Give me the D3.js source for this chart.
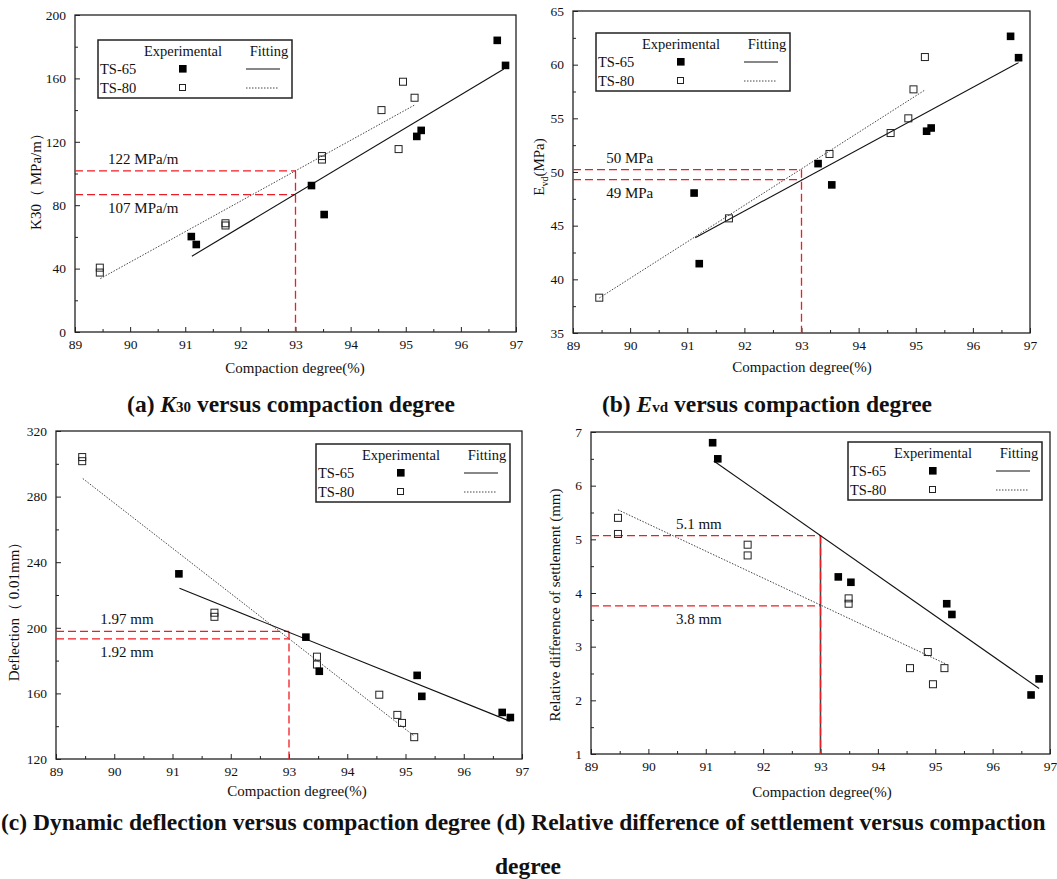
<!doctype html>
<html>
<head>
<meta charset="utf-8">
<script src="https://d3js.org/d3.v7.min.js"></script>
<style>
  body { margin: 0; background: #fff; }
  text { font-family: "Liberation Serif", "Times New Roman", serif; fill: #111; }
</style>
</head>
<body>
<svg width="1057" height="879" id="fig"></svg>
<script>
// ---- data ----
var xTicks = [89, 90, 91, 92, 93, 94, 95, 96, 97];
var xRef = 93;

// (a) K30
var k30Ticks = [0, 40, 80, 120, 160, 200];
var k30Ts65 = [[96.66, 184.0], [96.81, 168.2], [95.28, 127.2], [95.20, 123.4], [93.29, 92.4], [93.52, 74.1], [91.11, 60.2], [91.20, 55.2]];
var k30Ts80 = [[89.45, 40.6], [89.45, 37.5], [91.73, 68.6], [91.73, 67.2], [93.48, 111.0], [93.48, 108.8], [94.56, 140.0], [94.87, 115.4], [94.95, 157.9], [95.16, 147.8]];
var k30Fit65 = [[91.12, 47.8], [96.78, 165.9]];
var k30Fit80 = [[89.46, 33.7], [95.16, 143.2]];
var k30Ref = [101.7, 86.7];
var k30RefText = ["122 MPa/m", "107 MPa/m"];

// (b) Evd
var evdTicks = [35, 40, 45, 50, 55, 60, 65];
var evdTs65 = [[96.66, 62.64], [96.80, 60.65], [95.27, 54.1], [95.19, 53.8], [93.29, 50.78], [93.53, 48.8], [91.12, 48.04], [91.21, 41.46]];
var evdTs80 = [[89.46, 38.29], [91.73, 45.68], [93.49, 51.68], [94.56, 53.63], [94.87, 55.0], [94.96, 57.7], [95.16, 60.71]];
var evdFit65 = [[91.14, 43.88], [96.80, 60.19]];
var evdFit80 = [[89.46, 38.26], [95.17, 57.67]];
var evdRef = [50.22, 49.29];
var evdRefText = ["50 MPa", "49 MPa"];

// (c) deflection
var deflTicks = [120, 160, 200, 240, 280, 320];
var deflTs65 = [[91.11, 232.9], [93.29, 194.3], [93.52, 173.5], [95.20, 171.0], [95.28, 158.2], [96.66, 148.4], [96.80, 145.3]];
var deflTs80 = [[89.45, 304.1], [89.45, 301.6], [91.72, 209.2], [91.72, 206.7], [93.48, 182.4], [93.48, 177.6], [94.55, 159.2], [94.86, 146.9], [94.94, 142.0], [95.15, 133.3]];
var deflFit65 = [[91.12, 224.1], [96.79, 143.1]];
var deflFit80 = [[89.46, 291.0], [95.14, 134.3]];
var deflRef = [197.8, 193.3];
var deflRefText = ["1.97 mm", "1.92 mm"];

// (d) relative difference of settlement
var setTicks = [1, 2, 3, 4, 5, 6, 7];
var setTs65 = [[91.12, 6.8], [91.21, 6.5], [93.31, 4.3], [93.53, 4.2], [95.20, 3.8], [95.29, 3.6], [96.67, 2.1], [96.81, 2.4]];
var setTs80 = [[89.47, 5.4], [89.47, 5.1], [91.73, 4.9], [91.73, 4.7], [93.49, 3.9], [93.49, 3.8], [94.56, 2.6], [94.87, 2.9], [94.96, 2.3], [95.16, 2.6]];
var setFit65 = [[91.14, 6.46], [96.81, 2.22]];
var setFit80 = [[89.47, 5.55], [95.18, 2.68]];
var setRef = [5.07, 3.76];
var setRefText = ["5.1 mm", "3.8 mm"];

var svg = d3.select("#fig");
svg.append("rect").attr("width", 1057).attr("height", 879).attr("fill", "#fff");

function mids(t) { return d3.pairs(t).map(function (p) { return (p[0] + p[1]) / 2; }); }

function panel(p) {
  var x = d3.scaleLinear().domain([89, 97]).range([p.left, p.right]);
  var y = d3.scaleLinear().domain([p.yTicks[0], p.yTicks[p.yTicks.length - 1]]).range([p.bottom, p.top]);
  var g = svg.append("g");

  // axes, ticks pointing inward
  var bx = g.append("g").attr("transform", "translate(0," + p.bottom + ")");
  bx.append("g").call(d3.axisBottom(x).tickValues(mids(xTicks)).tickSize(-3).tickFormat(""));
  bx.append("g").call(d3.axisBottom(x).tickValues(xTicks).tickSize(-5).tickPadding(7).tickFormat(d3.format("d")));
  var ly = g.append("g").attr("transform", "translate(" + p.left + ",0)");
  ly.append("g").call(d3.axisLeft(y).tickValues(mids(p.yTicks)).tickSize(-3).tickFormat(""));
  ly.append("g").call(d3.axisLeft(y).tickValues(p.yTicks).tickSize(-5).tickPadding(9).tickFormat(d3.format("d")));
  g.selectAll(".domain").remove();
  g.selectAll(".tick line").attr("stroke", "#222");
  g.selectAll(".tick text").style("font-size", "13.5px").style("font-family", "Liberation Serif").attr("fill", "#222");

  g.append("rect")
    .attr("x", p.left).attr("y", p.top)
    .attr("width", p.right - p.left).attr("height", p.bottom - p.top)
    .attr("fill", "none").attr("stroke", "#222").attr("stroke-width", 1.3);

  // red reference lines at 93 %
  if (p.darkRef) {
    g.append("line")
      .attr("x1", x(xRef)).attr("x2", x(xRef))
      .attr("y1", y(p.ref[0])).attr("y2", p.bottom)
      .attr("stroke", "#444").attr("stroke-width", 1.6);
  }
  p.ref.forEach(function (v) {
    g.append("line")
      .attr("x1", p.left).attr("x2", x(xRef))
      .attr("y1", y(v)).attr("y2", y(v))
      .attr("stroke", "#ee1c24").attr("stroke-width", 1.3).attr("stroke-dasharray", "8,4");
  });
  g.append("line")
    .attr("x1", x(xRef)).attr("x2", x(xRef))
    .attr("y1", y(p.ref[0])).attr("y2", p.bottom)
    .attr("stroke", "#ee1c24").attr("stroke-width", 1.3).attr("stroke-dasharray", "8,4");

  g.append("text").attr("x", x(p.refLabelX)).attr("y", y(p.ref[0]) - 7)
    .style("font-size", "15px").text(p.refText[0]);
  g.append("text").attr("x", x(p.refLabelX)).attr("y", y(p.ref[1]) + 18)
    .style("font-size", "15px").text(p.refText[1]);

  // fitted lines
  var line = d3.line().x(function (d) { return x(d[0]); }).y(function (d) { return y(d[1]); });
  g.append("path").datum(p.fit80).attr("d", line)
    .attr("fill", "none").attr("stroke", "#444").attr("stroke-width", 1).attr("stroke-dasharray", "1.5,1.5");
  g.append("path").datum(p.fit65).attr("d", line)
    .attr("fill", "none").attr("stroke", "#111").attr("stroke-width", 1.1);

  // points
  g.selectAll(".o").data(p.ts80).enter().append("rect")
    .attr("x", function (d) { return x(d[0]) - 3.5; })
    .attr("y", function (d) { return y(d[1]) - 3.5; })
    .attr("width", 7).attr("height", 7)
    .attr("fill", "none").attr("stroke", "#222").attr("stroke-width", 1);
  g.selectAll(".f").data(p.ts65).enter().append("rect")
    .attr("x", function (d) { return x(d[0]) - 3.8; })
    .attr("y", function (d) { return y(d[1]) - 3.8; })
    .attr("width", 7.6).attr("height", 7.6)
    .attr("fill", "#000");

  // legend
  var L = p.legend;
  var lg = g.append("g").attr("transform", "translate(" + L[0] + "," + L[1] + ")");
  lg.append("rect").attr("width", 194).attr("height", 58)
    .attr("fill", "#fff").attr("stroke", "#222").attr("stroke-width", 1.5);
  lg.append("text").attr("x", 85).attr("y", 16).attr("text-anchor", "middle").style("font-size", "14.5px").text("Experimental");
  lg.append("text").attr("x", 171).attr("y", 16).attr("text-anchor", "middle").style("font-size", "14.5px").text("Fitting");
  lg.append("text").attr("x", 2).attr("y", 34).style("font-size", "14.5px").text("TS-65");
  lg.append("text").attr("x", 2).attr("y", 53).style("font-size", "14.5px").text("TS-80");
  lg.append("rect").attr("x", 81).attr("y", 25).attr("width", 7.6).attr("height", 7.6).attr("fill", "#000");
  lg.append("rect").attr("x", 81.5).attr("y", 44.5).attr("width", 6).attr("height", 6)
    .attr("fill", "none").attr("stroke", "#222");
  lg.append("line").attr("x1", 148).attr("x2", 182).attr("y1", 29).attr("y2", 29).attr("stroke", "#111");
  lg.append("line").attr("x1", 148).attr("x2", 180).attr("y1", 48).attr("y2", 48)
    .attr("stroke", "#444").attr("stroke-dasharray", "1.5,1.5");

  // x title
  g.append("text").attr("x", p.xTitle[0]).attr("y", p.xTitle[1]).attr("text-anchor", "middle")
    .style("font-size", "15px").text("Compaction degree(%)");
  // y title
  var yt = g.append("text")
    .attr("transform", "translate(" + p.yTitle[0] + "," + p.yTitle[1] + ")rotate(-90)")
    .attr("text-anchor", "middle").style("font-size", "15px");
  p.yText(yt);
}

panel({
  left: 75, right: 516, top: 15, bottom: 332,
  yTicks: k30Ticks, ts65: k30Ts65, ts80: k30Ts80, fit65: k30Fit65, fit80: k30Fit80,
  ref: k30Ref, refText: k30RefText, refLabelX: 89.6,
  legend: [98, 40], xTitle: [295, 373], yTitle: [41, 178],
  yText: function (t) { t.text("K30（ MPa/m）"); }
});
panel({
  left: 573, right: 1030, top: 11, bottom: 333,
  yTicks: evdTicks, ts65: evdTs65, ts80: evdTs80, fit65: evdFit65, fit80: evdFit80,
  ref: evdRef, refText: evdRefText, refLabelX: 89.58,
  legend: [596, 33], xTitle: [802, 372], yTitle: [544, 167],
  yText: function (t) {
    t.append("tspan").text("E");
    t.append("tspan").attr("dy", 4).style("font-size", "10px").text("vd");
    t.append("tspan").attr("dy", -4).text("(MPa)");
  }
});
panel({
  left: 56, right: 522, top: 431, bottom: 759,
  yTicks: deflTicks, ts65: deflTs65, ts80: deflTs80, fit65: deflFit65, fit80: deflFit80,
  ref: deflRef, refText: deflRefText, refLabelX: 89.76,
  legend: [316, 444], xTitle: [297, 796], yTitle: [19, 608],
  yText: function (t) { t.text("Deflection（ 0.01mm）"); }
});
panel({
  left: 591, right: 1050, top: 432, bottom: 754,
  yTicks: setTicks, ts65: setTs65, ts80: setTs80, fit65: setFit65, fit80: setFit80,
  ref: setRef, refText: setRefText, refLabelX: 90.48, darkRef: true,
  legend: [848, 442], xTitle: [822, 797], yTitle: [560, 605],
  yText: function (t) { t.text("Relative difference of settlement (mm)"); }
});

// captions
function caption(x, y, anchor) {
  return svg.append("text").attr("x", x).attr("y", y).attr("text-anchor", anchor)
    .style("font-size", "23.5px").style("font-weight", "bold");
}
var ca = caption(291, 412, "middle");
ca.append("tspan").text("(a) ");
ca.append("tspan").style("font-style", "italic").text("K");
ca.append("tspan").style("font-size", "15px").text("30");
ca.append("tspan").text(" versus compaction degree");

var cb = caption(767, 412, "middle");
cb.append("tspan").text("(b) ");
cb.append("tspan").style("font-style", "italic").text("E");
cb.append("tspan").style("font-size", "15px").text("vd");
cb.append("tspan").text(" versus compaction degree");

caption(1, 830, "start").text("(c) Dynamic deflection versus compaction degree (d) Relative difference of settlement versus compaction");
caption(528, 874, "middle").text("degree");
</script>
</body>
</html>
